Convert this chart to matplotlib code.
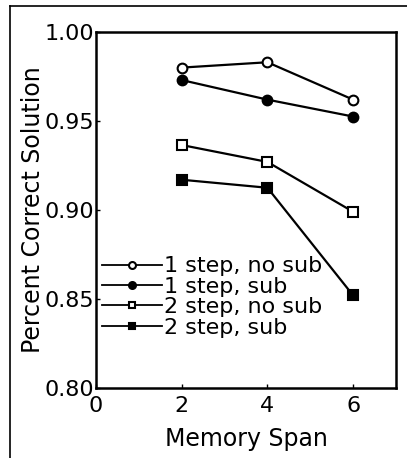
import matplotlib
matplotlib.use("Agg")
import matplotlib.pyplot as plt
from matplotlib.lines import Line2D

memory_span = [2, 4, 6]
one_step_no_sub = [0.980, 0.983, 0.962]
one_step_sub = [0.973, 0.962, 0.9525]
two_step_no_sub = [0.9365, 0.927, 0.899]
two_step_sub = [0.917, 0.9125, 0.852]
labels = ["1 step, no sub", "1 step, sub", "2 step, no sub", "2 step, sub"]
yticks = [0.80, 0.85, 0.90, 0.95, 1.00]
xticks = [0, 2, 4, 6]

plt.rcParams['font.family'] = ['DejaVu Sans']
W, H = 407, 458
fig = plt.figure(figsize=(W/100, H/100), dpi=100)
ax = fig.add_axes([96/W, 1-388/H, 300/W, 356/H])

series = [
    (one_step_no_sub, 'o', 'white'),
    (one_step_sub, 'o', 'black'),
    (two_step_no_sub, 's', 'white'),
    (two_step_sub, 's', 'black'),
]
for (vals, m, fc), lab in zip(series, labels):
    ax.plot(memory_span, vals, color='black', lw=1.6, marker=m, ms=7,
            mfc=fc, mec='black', mew=1.5, label=lab)

FS = 16
ax.set_xlim(0, 7)
ax.set_ylim(0.80, 1.00)
ax.set_xticks(xticks)
ax.set_yticks(yticks)
ax.set_yticklabels([f"{v:.2f}" for v in yticks])
ax.tick_params(direction='in', length=3, width=1, labelsize=FS)
ax.tick_params(axis='y', pad=1)
ax.tick_params(axis='x', pad=6)
for s in ax.spines.values():
    s.set_linewidth(1.8)
ax.set_xlabel("Memory Span", fontsize=17, labelpad=8)
ax.set_ylabel("Percent Correct Solution", fontsize=17, labelpad=0)

leg = ax.legend(loc='upper left', bbox_to_anchor=(0.02, 0.37), frameon=False,
                fontsize=FS, handlelength=2.7, handletextpad=0.1,
                labelspacing=0.02, borderaxespad=0, borderpad=0)
for h in leg.legend_handles:
    h.set_markersize(5)
    h.set_linewidth(1.3)

fig.add_artist(Line2D([10/W, 10/W], [0, 1-6/H], color='black', lw=1.2, transform=fig.transFigure))
fig.add_artist(Line2D([10/W, 1], [1-6/H, 1-6/H], color='black', lw=1.2, transform=fig.transFigure))

fig.savefig("out.png", dpi=100)
